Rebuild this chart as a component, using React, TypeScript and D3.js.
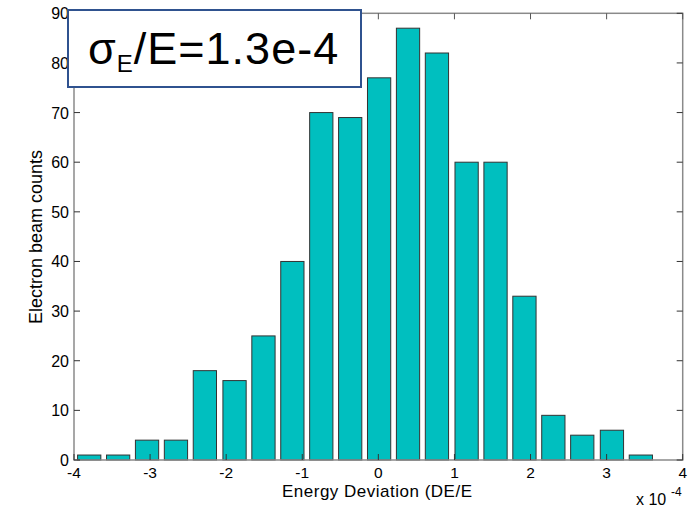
import React from "react";
import * as d3 from "d3";

const binCenters = [-3.80, -3.42, -3.04, -2.66, -2.28, -1.89, -1.51, -1.13, -0.75, -0.37, 0.01, 0.39, 0.77, 1.16, 1.54, 1.92, 2.30, 2.68, 3.07, 3.45];
const counts = [1, 1, 4, 4, 18, 16, 25, 40, 70, 69, 77, 87, 82, 60, 60, 33, 9, 5, 6, 1];
const xTicks = [-4, -3, -2, -1, 0, 1, 2, 3, 4];
const yTicks = [0, 10, 20, 30, 40, 50, 60, 70, 80, 90];
const binWidth = 0.382;

export default function App() {
  const W = 695, H = 509;
  const left = 74, right = 682.7, top = 13.3, bottom = 460;
  const x = d3.scaleLinear().domain([-4, 4]).range([left, right]);
  const y = d3.scaleLinear().domain([0, 90]).range([bottom, top]);
  const bw = (x(binWidth) - x(0)) * 0.8;
  const font = "'Liberation Sans', Arial, Helvetica, sans-serif";
  const tickLen = 6;
  return (
    <svg width={W} height={H} style={{ position: "absolute", left: 0, top: 0 }} fontFamily={font}>
      <rect x={0} y={0} width={W} height={H} fill="#fff" />
      {binCenters.map((c, i) => (
        <rect key={i} x={x(c) - bw / 2} y={y(counts[i])} width={bw} height={y(0) - y(counts[i])}
          fill="#00BFBF" stroke="#333" strokeWidth={1} />
      ))}
      {/* axes box */}
      <rect x={left} y={top} width={right - left} height={bottom - top} fill="none" stroke="#8a8a8a" strokeWidth={1.5} />
      {xTicks.map((t) => (
        <g key={"x" + t}>
          <line x1={x(t)} x2={x(t)} y1={bottom} y2={bottom - tickLen} stroke="#333" strokeWidth={1} />
          <line x1={x(t)} x2={x(t)} y1={top} y2={top + tickLen} stroke="#555" strokeWidth={1} />
          <text x={x(t)} y={477.5} textAnchor="middle" fontSize={15.5} fill="#000">{t}</text>
        </g>
      ))}
      {yTicks.map((t) => (
        <g key={"y" + t}>
          <line x1={left} x2={left + tickLen} y1={y(t)} y2={y(t)} stroke="#333" strokeWidth={1} />
          <line x1={right} x2={right - tickLen} y1={y(t)} y2={y(t)} stroke="#333" strokeWidth={1} />
          <text x={69} y={y(t) + 6} textAnchor="end" fontSize={16} fill="#000">{t}</text>
        </g>
      ))}
      <text x={377} y={496.5} textAnchor="middle" fontSize={17} textLength={190} lengthAdjust="spacing" fill="#000">Energy Deviation (DE/E</text>
      <text transform={`translate(42,237) rotate(-90)`} textAnchor="middle" fontSize={18} fill="#000">Electron beam counts</text>
      <text x={636} y={505} fontSize={16} fill="#000">x 10</text>
      <text x={671} y={496} fontSize={12} fill="#000">-4</text>
      {/* annotation */}
      <rect x={68} y={10} width={293} height={77} fill="#fff" stroke="#2F528F" strokeWidth={2} />
      <text x={88} y={64.3} fontSize={45} letterSpacing={1} fill="#000">
        σ<tspan fontSize={24} dy={7.5}>E</tspan><tspan dy={-7.5}>/E=1.3e-4</tspan>
      </text>
    </svg>
  );
}
